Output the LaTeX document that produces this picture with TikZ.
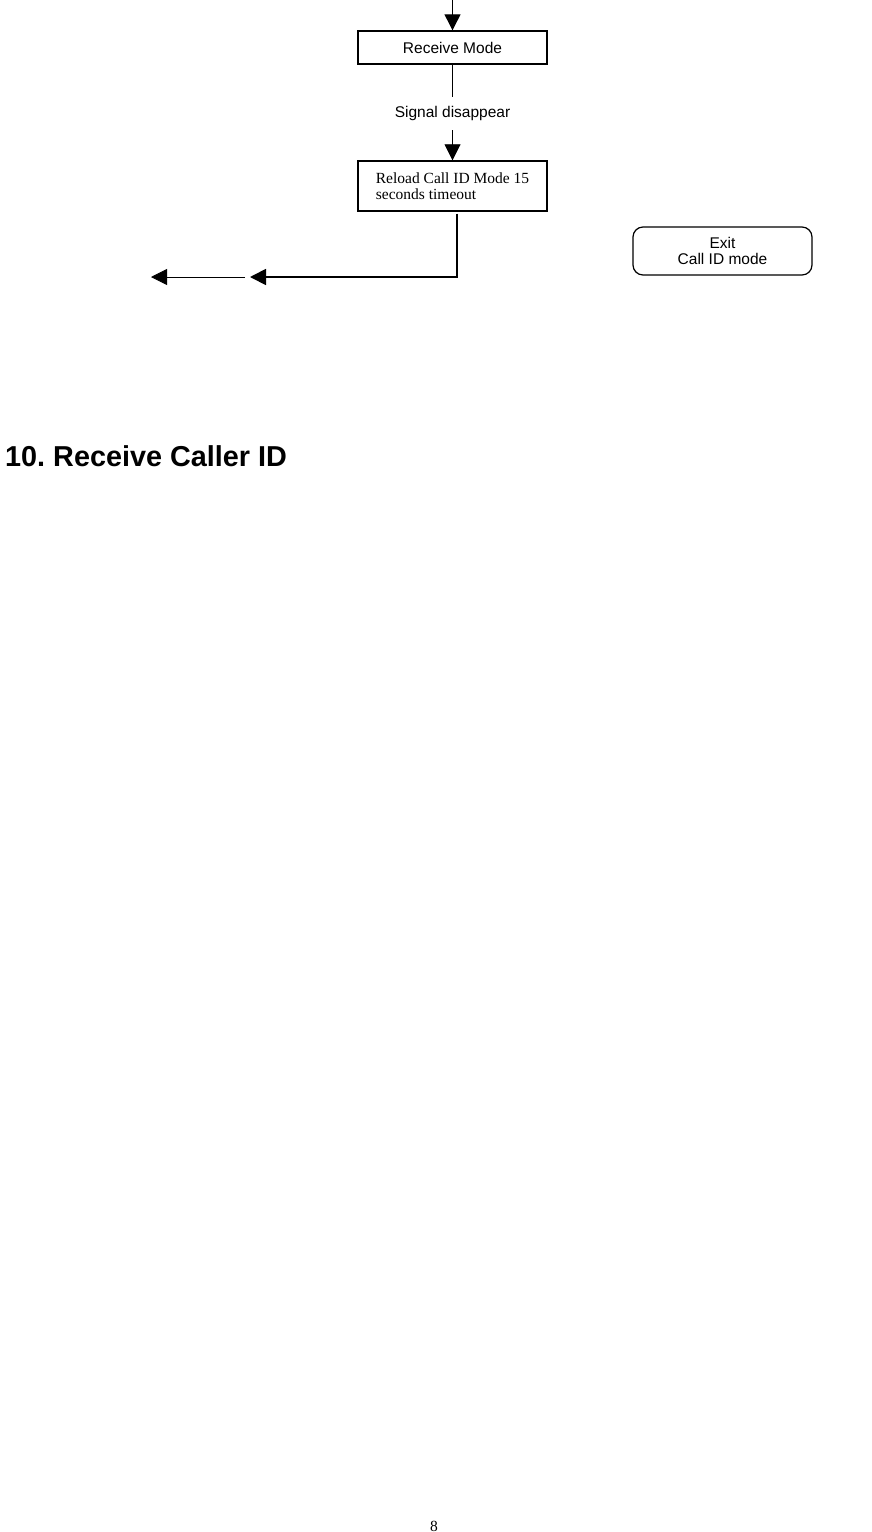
\documentclass[tikz,border=0pt]{standalone}
\usepackage{fontspec}
\setmainfont{Liberation Sans}
\newfontfamily\timesf{Liberation Serif}
\usetikzlibrary{arrows.meta}
\frenchspacing
\tikzset{
  box/.style={draw, line width=1.4pt, minimum width=189pt, inner sep=0pt, font=\fontsize{15.5}{17}\selectfont},
  rbox/.style={draw, line width=1.2pt, rounded corners=10pt, minimum width=179pt, minimum height=48pt, inner sep=0pt, align=center, font=\fontsize{15.5}{16.5}\selectfont},
  lbl/.style={inner sep=0pt, minimum height=33pt, font=\fontsize{15.5}{17}\selectfont},
  thinln/.style={line width=0.8pt},
  arr/.style={-{Triangle[length=16pt,width=16pt]}},
  thickln/.style={line width=1.8pt}
}
\begin{document}
\begin{tikzpicture}[x=1pt,y=-1pt]
\useasboundingbox (0,0) rectangle (871,1532);
\coordinate (top) at (452.5,0);
\node[box, minimum height=33pt] (rm) at (452.5,47.5) {Receive Mode};
\node[lbl] (sig) at (452.5,113.5) {Signal disappear};
\node[box, minimum height=50pt, align=left, font=\timesf\fontsize{15.5}{16}\selectfont] (rl) at (452.5,186) {Reload Call ID Mode 15\\seconds timeout};
\node[rbox] (exit) at (722.5,251) {Exit\\Call ID mode};
\coordinate (t1) at (250,277);
\coordinate (s2) at (245,277);
\coordinate (t2) at (151,277);
\draw[line width=1.2pt, arr] (top) -- (rm.north);
\draw[thinln] (rm.south) -- (sig.north);
\draw[thinln, arr] (sig.south) -- (rl.north);
\draw[thickln, arr] ([xshift=4.5pt,yshift=-2pt]rl.south) |- (t1);
\draw[thinln, arr] (s2) -- (t2);
\node[anchor=base west, inner sep=0pt, font=\bfseries\fontsize{28.8}{30}\selectfont] (title) at (5,466) {10. Receive Caller ID};
\node[anchor=base, inner sep=0pt, font=\timesf\fontsize{15.5}{17}\selectfont] (pg) at (434,1531) {8};
\end{tikzpicture}
\end{document}
